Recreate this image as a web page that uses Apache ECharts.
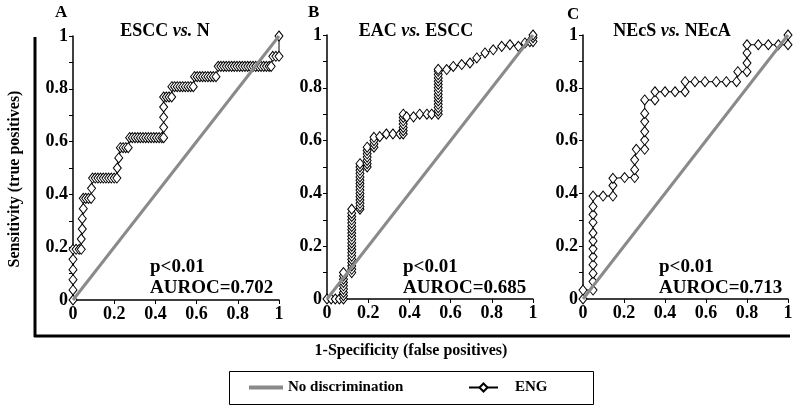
<!DOCTYPE html>
<html>
<head>
<meta charset="utf-8">
<script src="https://cdn.jsdelivr.net/npm/echarts@6/dist/echarts.min.js"></script>
<style>
html,body{margin:0;padding:0;background:#fff;}
#chart{width:800px;height:411px;}
</style>
</head>
<body>
<div id="chart"></div>
<script>
// ---- data ----
const panelLetters = ['A', 'B', 'C'];
const panelTitles = [['ESCC ', 'vs.', ' N'], ['EAC ', 'vs.', ' ESCC'], ['NEcS ', 'vs.', ' NEcA']];
const pValues = ['p<0.01', 'p<0.01', 'p<0.01'];
const aurocValues = ['AUROC=0.702', 'AUROC=0.685', 'AUROC=0.713'];
const tickLabels = ['0', '0.2', '0.4', '0.6', '0.8', '1'];
const seriesNames = ['No discrimination', 'ENG'];
const xTitle = '1-Specificity (false positives)';
const yTitle = 'Sensitivity (true positives)';

const diagonal = [[0, 0], [1, 1]];

const engA = [
  [0,0],[0,0.038],[0,0.077],[0,0.115],[0,0.154],[0,0.192],
  [0.015,0.192],[0.03,0.192],[0.04,0.192],
  [0.04,0.231],[0.045,0.269],[0.045,0.308],[0.05,0.346],[0.05,0.385],
  [0.062,0.385],[0.075,0.385],[0.088,0.385],
  [0.09,0.423],[0.095,0.462],[0.108,0.462],[0.121,0.462],[0.134,0.462],[0.147,0.462],[0.16,0.462],
  [0.173,0.462],[0.186,0.462],[0.2,0.462],[0.213,0.462],
  [0.215,0.5],[0.222,0.538],[0.23,0.577],[0.243,0.577],[0.256,0.577],[0.268,0.577],
  [0.275,0.615],[0.288,0.615],[0.301,0.615],[0.314,0.615],[0.327,0.615],[0.34,0.615],[0.353,0.615],
  [0.366,0.615],[0.379,0.615],[0.392,0.615],[0.405,0.615],[0.418,0.615],[0.431,0.615],[0.44,0.615],
  [0.44,0.654],[0.44,0.692],[0.44,0.731],[0.44,0.769],[0.453,0.769],[0.466,0.769],[0.479,0.769],
  [0.48,0.808],[0.493,0.808],[0.506,0.808],[0.519,0.808],[0.532,0.808],[0.545,0.808],[0.558,0.808],
  [0.571,0.808],[0.584,0.808],
  [0.59,0.846],[0.603,0.846],[0.616,0.846],[0.629,0.846],[0.642,0.846],[0.655,0.846],[0.668,0.846],
  [0.681,0.846],[0.694,0.846],
  [0.705,0.885],[0.718,0.885],[0.731,0.885],[0.744,0.885],[0.757,0.885],[0.77,0.885],[0.783,0.885],
  [0.796,0.885],[0.809,0.885],[0.822,0.885],[0.835,0.885],[0.848,0.885],[0.861,0.885],[0.874,0.885],
  [0.887,0.885],[0.9,0.885],[0.913,0.885],[0.926,0.885],[0.939,0.885],[0.952,0.885],[0.962,0.885],
  [0.97,0.923],[0.985,0.923],[1,0.923],[1,1]
];

const engB = [
  [0,0],[0.02,0],[0.04,0],[0.06,0],[0.08,0],
  [0.08,0.0125],[0.08,0.025],[0.08,0.0375],[0.08,0.05],[0.08,0.0625],[0.08,0.075],[0.08,0.0875],[0.08,0.1],
  [0.12,0.1],[0.12,0.1125],[0.12,0.125],[0.12,0.1375],[0.12,0.15],[0.12,0.1625],[0.12,0.175],[0.12,0.1875],
  [0.12,0.2],[0.12,0.2125],[0.12,0.225],[0.12,0.2375],[0.12,0.25],[0.12,0.2625],[0.12,0.275],[0.12,0.2875],
  [0.12,0.3],[0.12,0.3125],[0.12,0.325],[0.12,0.34],
  [0.16,0.34],[0.16,0.35],[0.16,0.3625],[0.16,0.375],[0.16,0.3875],[0.16,0.4],[0.16,0.4125],[0.16,0.425],
  [0.16,0.4375],[0.16,0.45],[0.16,0.4625],[0.16,0.475],[0.16,0.4875],[0.16,0.5],[0.16,0.5125],
  [0.195,0.5],[0.195,0.5125],[0.195,0.525],[0.195,0.5375],[0.195,0.55],[0.195,0.5625],[0.195,0.575],
  [0.228,0.575],[0.228,0.5875],[0.228,0.6],[0.228,0.6125],
  [0.256,0.615],[0.288,0.625],[0.32,0.625],[0.354,0.625],
  [0.37,0.625],[0.37,0.6375],[0.37,0.65],[0.37,0.6625],[0.37,0.675],[0.37,0.6875],[0.37,0.7],
  [0.387,0.69],[0.42,0.69],[0.45,0.7],[0.485,0.7],[0.508,0.7],
  [0.54,0.7],[0.54,0.7125],[0.54,0.725],[0.54,0.7375],[0.54,0.75],[0.54,0.7625],[0.54,0.775],[0.54,0.7875],
  [0.54,0.8],[0.54,0.8125],[0.54,0.825],[0.54,0.8375],[0.54,0.85],[0.54,0.8625],[0.54,0.87],
  [0.581,0.869],[0.613,0.881],[0.654,0.888],[0.694,0.894],[0.727,0.913],[0.767,0.932],[0.807,0.944],
  [0.848,0.957],[0.888,0.963],[0.929,0.957],[0.961,0.97],[0.985,0.975],[1,0.975],[1,0.99],[1,1]
];

const engC = [
  [0,0],[0,0.034],[0.049,0.034],[0.049,0.066],[0.049,0.097],[0.049,0.13],[0.049,0.16],[0.049,0.19],
  [0.049,0.22],[0.049,0.25],[0.049,0.29],[0.049,0.32],[0.049,0.35],[0.049,0.39],
  [0.098,0.39],[0.146,0.39],[0.146,0.43],[0.146,0.457],[0.203,0.46],[0.252,0.46],[0.252,0.49],
  [0.252,0.527],[0.26,0.567],[0.301,0.567],[0.301,0.602],[0.301,0.634],[0.301,0.672],[0.301,0.703],
  [0.301,0.754],[0.351,0.754],[0.351,0.785],[0.4,0.785],[0.449,0.785],[0.498,0.785],[0.498,0.823],
  [0.546,0.823],[0.595,0.823],[0.65,0.823],[0.699,0.823],[0.749,0.823],[0.755,0.861],[0.8,0.861],
  [0.8,0.894],[0.8,0.932],[0.8,0.963],[0.855,0.963],[0.904,0.963],[0.953,0.963],[1,0.963],[1,1]
];

const engData = [engA, engB, engC];

// ---- layout ----
const FONT = "'Liberation Serif', 'Times New Roman', serif";
const grids = [
  {left: 73, top: 36, width: 206, height: 264},
  {left: 327, top: 35, width: 206, height: 264},
  {left: 583, top: 35, width: 205, height: 264}
];
const letterPos = [[55, 4], [308, 4], [567, 6]];
const titleCenter = [165, 416, 672];
const annotX = [150, 403, 659];

const axisCommon = {
  type: 'value', min: 0, max: 1, interval: 0.2,
  axisLine: {show: true, lineStyle: {color: '#000', width: 1.5}},
  axisTick: {show: true, length: 4, lineStyle: {color: '#000', width: 1}},
  splitLine: {show: false},
  axisLabel: {
    color: '#000', fontFamily: FONT, fontWeight: 'bold', fontSize: 18, margin: 5,
    formatter: function (v) { return tickLabels[Math.round(v * 5)]; }
  }
};

const xAxes = grids.map((g, i) => Object.assign({}, axisCommon, {gridIndex: i}));
const yAxes = grids.map((g, i) => Object.assign({}, axisCommon, {
  gridIndex: i,
  minorTick: {show: true, splitNumber: 2, length: 4, lineStyle: {color: '#000', width: 1}}
}));

const series = [];
grids.forEach((g, i) => {
  series.push({
    name: seriesNames[1], type: 'line', xAxisIndex: i, yAxisIndex: i,
    data: engData[i], clip: false, z: 2,
    symbol: 'diamond', symbolSize: [8, 10], showSymbol: true,
    itemStyle: {color: '#fff', borderColor: '#000', borderWidth: 1},
    lineStyle: {color: '#000', width: 1},
    animation: false
  });
  series.push({
    name: seriesNames[0], type: 'line', xAxisIndex: i, yAxisIndex: i,
    data: diagonal, symbol: 'none', z: 3,
    lineStyle: {color: '#8a8a8a', width: 3},
    itemStyle: {color: '#8a8a8a'},
    animation: false
  });
});

const graphics = [];
// outer frame
graphics.push({type: 'line', shape: {x1: 35, y1: 37, x2: 35, y2: 337}, style: {stroke: '#000', lineWidth: 3}});
graphics.push({type: 'line', shape: {x1: 34, y1: 336, x2: 790, y2: 336}, style: {stroke: '#000', lineWidth: 3}});
// legend box
graphics.push({type: 'rect', shape: {x: 229.5, y: 371.5, width: 364, height: 33}, style: {fill: 'none', stroke: '#000', lineWidth: 1}});
// axis titles
graphics.push({type: 'text', x: 15, y: 179, rotation: Math.PI / 2,
  style: {text: yTitle, font: 'bold 16px ' + FONT, fill: '#000', textAlign: 'center', textVerticalAlign: 'middle'}});
graphics.push({type: 'text', x: 411, y: 351,
  style: {text: xTitle, font: 'bold 16px ' + FONT, fill: '#000', textAlign: 'center', textVerticalAlign: 'middle'}});

grids.forEach((g, i) => {
  graphics.push({type: 'text', x: letterPos[i][0], y: letterPos[i][1],
    style: {text: panelLetters[i], font: 'bold 17px ' + FONT, fill: '#000'}});
  const t = panelTitles[i];
  graphics.push({type: 'text', x: titleCenter[i], y: 31,
    style: {
      text: '{b|' + t[0] + '}{i|' + t[1] + '}{b|' + t[2] + '}',
      textAlign: 'center', textVerticalAlign: 'middle',
      rich: {
        b: {font: 'bold 18px ' + FONT, fill: '#000'},
        i: {font: 'italic bold 18px ' + FONT, fill: '#000'}
      }
    }});
  graphics.push({type: 'text', x: annotX[i], y: 267,
    style: {text: pValues[i], font: 'bold 19px ' + FONT, fill: '#000', textVerticalAlign: 'middle'}});
  graphics.push({type: 'text', x: annotX[i], y: 288,
    style: {text: aurocValues[i], font: 'bold 19px ' + FONT, fill: '#000', textVerticalAlign: 'middle'}});
});

const chart = echarts.init(document.getElementById('chart'), null, {renderer: 'canvas'});
chart.setOption({
  animation: false,
  backgroundColor: '#fff',
  grid: grids,
  xAxis: xAxes,
  yAxis: yAxes,
  legend: [
    {data: [{name: seriesNames[0], icon: 'rect'}], left: 249, top: 380, padding: 0, itemWidth: 34, itemHeight: 4,
     selectedMode: false,
     textStyle: {fontFamily: FONT, fontWeight: 'bold', fontSize: 15, color: '#000'}},
    {data: [seriesNames[1]], left: 468, top: 380, padding: 0, itemWidth: 29, itemHeight: 10,
     selectedMode: false,
     textStyle: {fontFamily: FONT, fontWeight: 'bold', fontSize: 15, color: '#000', padding: [0, 0, 0, 12]}}
  ],
  series: series,
  graphic: graphics
});
</script>
</body>
</html>
